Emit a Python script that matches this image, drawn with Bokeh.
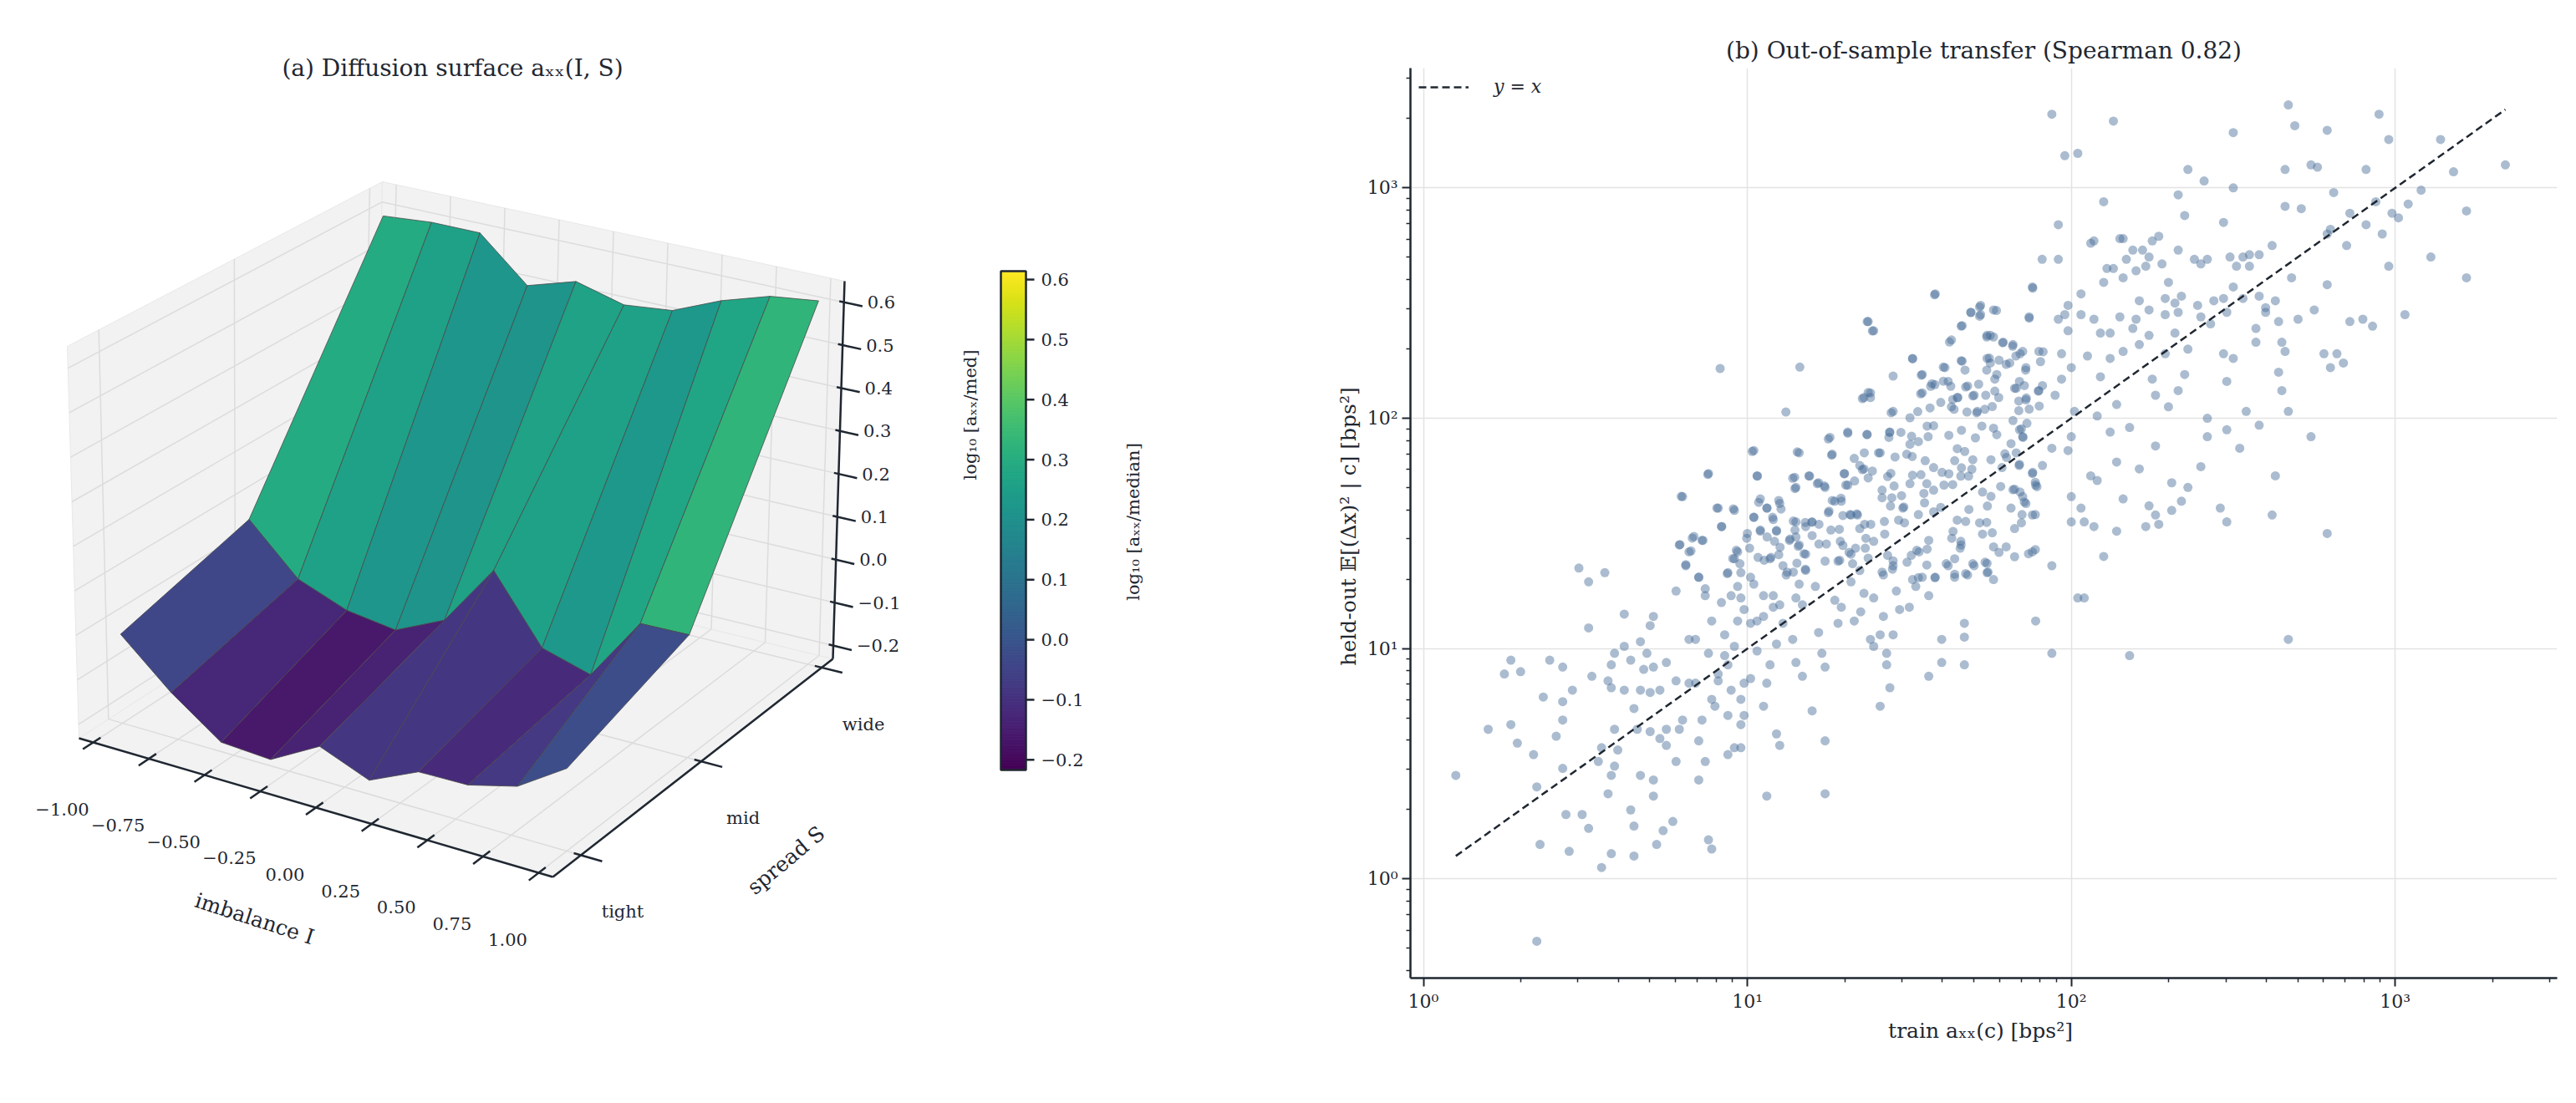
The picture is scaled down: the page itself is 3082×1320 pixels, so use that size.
import numpy as np
from bokeh.plotting import figure
from bokeh.layouts import row, column
from bokeh.models import Range1d, FixedTicker, CustomJSTickFormatter, Legend, LegendItem
from bokeh.palettes import Viridis256
from bokeh.core.properties import value
from bokeh.embed import file_html
from bokeh.resources import INLINE

FONT = "DejaVu Serif"
INK = "#1f2731"

# ---------------- data ----------------
imbalance = [-1.0 + 2.0 * k / 9 for k in range(10)]
spread_labels = ["tight", "mid", "wide"]
z_tight = [-0.03, -0.13, -0.21, -0.217, -0.156, -0.20, -0.15, -0.148, -0.12, -0.05]
z_mid = [0.051, -0.058, -0.101, -0.117, -0.065, 0.078, -0.070, -0.102, 0.043, 0.046]
z_wide = [0.59, 0.60, 0.60, 0.50, 0.535, 0.505, 0.517, 0.565, 0.60, 0.614]
imb_ticks = [-1.0, -0.75, -0.5, -0.25, 0.0, 0.25, 0.5, 0.75, 1.0]
z_ticks = [-0.2, -0.1, 0.0, 0.1, 0.2, 0.3, 0.4, 0.5, 0.6]
cbar_low, cbar_high = -0.217, 0.614

points_log10 = [
(0.10,0.45),(0.20,0.65),(0.25,0.89),(0.27,0.95),(0.30,0.90),(0.27,0.67),(0.29,0.59),(0.34,0.54),(0.35,0.40),(0.36,0.15),
(0.35,-0.27),(0.37,0.79),(0.39,0.95),(0.41,0.62),(0.43,0.77),(0.43,0.69),(0.43,0.92),(0.43,0.48),(0.44,0.28),(0.45,0.12),
(0.46,0.82),(0.48,1.35),(0.51,1.29),(0.51,1.09),(0.49,0.28),(0.51,0.22),(0.52,0.88),(0.54,0.51),(0.55,0.05),(0.56,1.33),
(0.55,0.57),(0.57,0.86),(0.58,0.83),(0.58,0.45),(0.57,0.37),(0.58,0.11),(0.59,0.98),(0.58,0.93),(0.59,0.65),(0.60,0.56),
(0.59,0.49),(0.62,0.82),(0.62,1.15),(0.62,1.01),(0.64,0.30),(0.64,0.95),(0.65,0.74),(0.65,0.10),(0.65,0.23),(0.66,0.65),
(0.67,0.82),(0.67,1.03),(0.67,0.45),(0.68,0.91),(0.69,0.98),(0.70,0.64),(0.70,0.81),(0.71,1.14),(0.70,1.10),(0.71,0.92),
(0.71,0.43),(0.71,0.36),(0.72,0.15),(0.73,0.61),(0.73,0.82),(0.74,0.21),(0.75,0.58),(0.75,0.65),(0.75,0.94),(0.77,0.25),
(0.78,0.86),(0.78,1.25),(0.78,0.51),(0.79,0.65),(0.80,1.66),(0.79,1.45),(0.80,0.69),(0.81,1.36),(0.82,1.04),(0.82,0.85),
(0.82,1.42),(0.83,1.48),(0.84,1.04),(0.84,0.85),(0.85,0.43),(0.85,1.31),(0.85,0.60),(0.86,0.69),(0.86,1.47),(0.87,0.51),
(0.87,1.26),(0.87,1.23),(0.88,1.76),(0.88,0.98),(0.88,0.17),(0.89,0.13),(0.89,0.78),(0.89,1.12),(0.90,0.75),(0.91,1.61),
(0.91,0.89),(0.91,0.86),(0.92,1.20),(0.92,1.53),(0.93,1.06),(0.93,0.97),(0.94,1.33),(0.94,0.71),(0.94,0.54),(0.94,0.93),
(0.95,1.23),(0.95,0.82),(0.96,1.60),(0.96,1.01),(0.96,0.57),(0.96,1.39),(0.97,1.42),(0.97,1.27),(0.97,1.12),(0.98,0.67),
(0.98,1.33),(0.98,1.22),(0.98,0.57),(0.98,0.78),(0.99,0.71),(0.99,1.17),(0.99,0.85),(1.00,1.50),(1.01,1.31),(1.01,1.11),
(1.01,0.87),(1.02,1.86),(1.02,1.57),(1.02,1.28),(1.03,1.12),(1.03,1.75),(1.03,0.99),(1.04,1.65),(1.04,1.51),(1.05,1.14),
(1.05,0.75),(1.05,1.23),(1.06,0.85),(1.06,0.36),(1.06,1.61),(1.07,0.93),(1.07,1.39),(1.08,1.18),(1.08,1.56),(1.08,1.23),
(1.09,1.02),(1.09,0.63),(1.09,1.51),(1.10,1.63),(1.10,1.19),(1.10,0.58),(1.11,1.36),(1.11,1.11),(1.12,1.32),(1.13,1.47),
(1.14,1.04),(1.14,1.74),(1.15,1.22),(1.15,1.55),(1.15,1.70),(1.15,0.94),(1.16,1.85),(1.16,1.28),(1.16,1.45),(1.17,1.19),
(1.17,0.88),(1.18,1.34),(1.18,1.53),(1.18,1.41),(1.19,1.75),(1.20,0.73),(1.20,1.55),(1.21,1.27),(1.22,1.72),(1.22,1.07),
(1.23,0.98),(1.24,1.38),(1.24,1.70),(1.24,0.92),(1.24,0.60),(1.24,0.37),(1.25,1.91),(1.25,1.59),(1.26,1.84),(1.27,1.64),
(1.27,1.21),(1.28,1.11),(1.28,1.38),(1.29,1.64),(1.29,1.18),(1.30,1.76),(1.31,1.71),(1.31,1.94),(1.32,1.58),(1.32,1.41),
(1.32,1.29),(1.33,1.12),(1.34,1.58),(1.35,1.16),(1.36,1.78),(1.36,1.24),(1.37,1.93),(1.38,1.04),(1.39,1.01),(1.39,1.22),
(1.41,1.85),(1.41,0.75),(1.41,1.06),(1.42,1.32),(1.42,1.14),(1.43,0.98),(1.43,0.93),(1.44,0.83),(1.44,1.94),(1.45,1.36),
(1.45,1.06),(1.46,1.25),(1.47,1.17),(1.48,1.61),(1.50,1.18),(1.51,1.30),(1.52,1.27),(1.53,1.42),(1.54,1.31),(1.56,1.47),
(1.56,1.23),(1.56,0.88),(1.58,1.31),(1.60,0.94),(1.60,1.04),(1.62,1.36),(1.64,1.39),(1.64,1.31),(1.66,1.45),(1.67,1.11),
(1.67,1.05),(1.67,0.93),(1.68,1.32),(1.70,1.36),(1.74,1.37),(1.74,1.33),(1.76,1.30),
(1.37,2.42),(1.39,2.38),(1.36,2.09),(1.38,2.09),(1.38,2.11),(1.45,2.03),(1.51,2.26),(1.54,2.19),(1.54,2.11),(1.58,2.54),
(1.57,2.15),(1.61,2.22),(1.63,2.34),(1.62,2.16),(1.63,2.05),(1.65,2.09),(1.66,2.40),(1.66,2.25),(1.68,2.14),(1.69,2.46),
(1.72,2.49),(1.72,2.45),(1.74,2.36),(1.74,2.26),(1.75,2.36),(1.76,2.47),(1.70,2.10),(1.71,2.03),(1.75,2.24),(1.77,2.19),
(1.79,2.33),(1.82,2.32),(1.85,2.29),(1.81,2.24),(1.83,2.13),(1.84,2.16),(1.86,2.22),(1.87,2.44),(1.88,2.57),(1.86,2.08),
(1.87,2.04),(1.82,1.99),(1.84,1.95),(1.85,1.92),(1.83,1.85),(1.80,1.83),(1.82,1.69),(1.84,1.80),(1.85,1.66),(1.86,1.63),
(1.88,1.76),(1.88,1.58),(1.89,1.71),(1.88,1.42),(1.89,1.12),(1.90,2.29),(1.90,2.12),(1.91,2.69),(1.94,3.32),(1.94,1.87),
(1.94,1.36),(1.94,0.98),(1.95,2.10),(1.96,2.69),(1.96,2.84),(1.96,2.43),(1.97,2.28),(1.97,2.17),(1.98,2.45),(1.98,3.14),
(1.99,2.38),(1.99,2.49),(1.99,1.86),(2.00,1.92),(2.00,1.66),(2.00,1.55),(2.00,2.22),(2.01,2.03),(2.02,3.15),(2.02,1.22),
(2.03,2.45),(2.03,1.61),(2.03,2.54),(2.04,1.22),(2.04,1.55),(2.05,2.27),(2.06,2.76),(2.06,1.75),(2.07,2.43),(2.07,2.77),
(2.07,1.53),(2.08,1.73),(2.08,2.01),(2.09,2.18),(2.09,2.37),(2.10,2.59),(2.10,1.40),(2.10,2.94),(2.11,2.65),(2.12,2.26),
(2.12,1.94),(2.12,2.37),(2.13,2.65),(2.13,3.29),(2.14,1.81),(2.14,1.51),(2.14,2.06),(2.15,2.44),(2.15,2.78),(2.16,2.29),
(2.16,1.65),(2.16,2.61),(2.16,2.78),(2.17,2.69),(2.18,1.96),(2.18,0.97),(2.19,2.39),(2.19,2.73),(2.20,2.43),(2.20,2.64),
(2.21,2.32),(2.21,1.78),(2.21,2.51),(2.22,2.73),(2.23,1.53),(2.23,2.66),(2.24,2.70),(2.24,2.36),(2.24,2.47),(2.24,1.62),
(2.25,2.77),(2.25,2.17),(2.26,1.58),(2.26,2.10),(2.26,1.88),(2.27,2.79),(2.27,1.54),(2.28,2.67),(2.29,2.52),(2.29,2.45),
(2.29,2.28),(2.30,2.59),(2.30,2.05),(2.31,1.72),(2.31,1.60),(2.32,2.50),(2.32,2.37),(2.33,2.97),(2.33,2.12),(2.33,2.73),
(2.33,2.46),(2.34,1.64),(2.34,2.53),(2.35,2.19),(2.35,2.88),(2.36,3.08),(2.36,1.70),(2.36,2.30),(2.38,2.69),(2.39,2.49),
(2.40,2.67),(2.40,2.44),(2.40,1.79),(2.41,3.03),(2.42,2.69),(2.42,1.92),(2.42,2.00),(2.43,2.41),(2.44,2.51),(2.46,1.61),
(2.47,2.28),(2.47,2.85),(2.47,2.52),(2.48,2.16),(2.48,1.95),(2.48,1.55),(2.48,2.46),(2.49,2.70),(2.50,2.57),(2.50,3.24),
(2.50,3.00),(2.50,2.26),(2.51,2.66),(2.52,1.87),(2.53,2.52),(2.53,2.70),(2.54,2.03),(2.55,2.71),(2.55,2.66),(2.57,2.39),
(2.57,2.33),(2.58,2.71),(2.58,2.53),(2.58,1.97),(2.60,2.46),(2.60,2.48),(2.62,2.75),(2.62,1.58),(2.63,2.51),(2.63,1.75),
(2.64,2.20),(2.64,2.42),(2.65,2.12),(2.65,2.33),(2.66,2.29),(2.66,3.08),(2.66,2.92),(2.67,2.03),(2.67,1.04),(2.67,3.36),
(2.68,2.61),(2.69,3.27),(2.70,2.43),(2.71,2.91),(2.74,1.92),(2.74,3.10),(2.75,2.47),(2.76,3.09),(2.78,2.28),(2.79,2.80),
(2.79,3.25),(2.79,2.58),(2.79,1.50),(2.80,2.82),(2.80,2.22),(2.81,2.98),(2.82,2.28),(2.84,2.24),(2.85,2.75),(2.86,2.42),
(2.86,2.89),(2.90,2.43),(2.91,3.08),(2.91,2.84),(2.93,2.40),(2.94,2.94),(2.95,3.32),(2.96,2.80),(2.98,3.21),(2.98,2.66),
(2.99,2.89),(3.01,2.87),(3.03,2.45),(3.04,2.93),(3.08,2.99),(3.11,2.70),(3.14,3.21),(3.18,3.07),(3.22,2.90),(3.22,2.61),
(3.34,3.10),
(1.015,1.856),(1.031,1.749),(1.020,1.570),(1.040,1.515),(1.035,1.635),(1.061,1.610),(1.078,1.570),(1.090,1.513),(1.097,1.643),(1.104,1.606),
(1.061,1.485),(1.084,1.466),(1.101,1.440),(1.097,1.408),(1.073,1.396),(1.052,1.384),(1.033,1.396),(1.007,1.436),(0.998,1.479),(0.966,1.427),
(0.977,1.369),(0.955,1.391),(1.146,1.744),(1.147,1.695),(1.154,1.854),(1.192,1.749),(1.216,1.716),(1.238,1.706),(1.262,1.643),(1.289,1.653),
(1.252,1.597),(1.142,1.554),(1.147,1.515),(1.179,1.548),(1.199,1.549),(1.221,1.540),(1.200,1.491),(1.221,1.454),(1.244,1.454),(1.258,1.515),
(1.284,1.518),(1.150,1.485),(1.132,1.476),(1.157,1.444),(1.175,1.412),(1.153,1.371),(1.123,1.332),(1.142,1.332),(1.179,1.345),(1.255,1.917),
(1.262,1.844),(1.310,1.935),(1.369,1.929),(1.405,1.850),(1.361,1.850),(1.330,1.826),(1.347,1.795),(1.355,1.777),(1.386,1.771),(1.299,1.759),
(1.304,1.710),(1.331,1.728),(1.373,1.741),(1.416,1.688),(1.433,1.747),(1.443,1.761),(1.453,1.706),(1.416,1.655),(1.446,1.655),(1.476,1.664),
(1.483,1.615),(1.442,1.619),(1.467,1.558),(1.485,1.546),(1.423,1.552),(1.424,1.497),(1.390,1.466),(1.366,1.479),(1.362,1.540),(1.381,1.540),
(1.347,1.521),(1.317,1.582),(1.338,1.585),(1.295,1.578),(1.287,1.466),(1.295,1.448),(1.314,1.418),(1.334,1.436),(1.364,1.436),(1.373,1.393),
(1.347,1.339),(1.325,1.369),(1.285,1.384),(1.444,2.024),(1.439,1.939),(1.474,1.939),(1.507,1.922),(1.502,1.887),(1.528,1.899),(1.558,1.920),
(1.555,1.966),(1.575,1.968),(1.492,1.844),(1.509,1.834),(1.456,1.832),(1.437,1.917),(1.549,1.816),(1.575,1.786),(1.510,1.753),(1.536,1.755),
(1.554,1.716),(1.575,1.688),(1.545,1.674),(1.547,1.633),(1.502,1.716),(1.528,1.582),(1.575,1.594),(1.597,1.613),(1.607,1.710),(1.601,1.765),
(1.622,1.759),(1.634,1.712),(1.659,1.749),(1.683,1.749),(1.693,1.779),(1.661,1.785),(1.640,1.816),(1.671,1.856),(1.696,1.820),(1.648,1.868),
(1.622,1.926),(1.661,1.948),(1.704,1.915),(1.724,1.966),(1.760,1.957),(1.770,1.929),(1.814,1.890),(1.795,1.846),(1.752,1.820),(1.786,1.786),
(1.839,1.795),(1.881,1.765),(1.911,1.795),(1.889,1.722),(1.894,1.703),(1.825,1.692),(1.842,1.680),(1.855,1.637),(1.848,1.582),(1.814,1.610),
(1.846,1.546),(1.825,1.521),(1.889,1.582),(1.782,1.704),(1.726,1.680),(1.752,1.661),(1.741,1.619),(1.684,1.604),(1.717,1.546),(1.739,1.548),
(1.674,1.552),(1.648,1.558),(1.635,1.509),(1.659,1.466),(1.657,1.436),(1.631,1.479),(1.726,1.497),(1.756,1.503),(1.760,1.442),(1.777,1.418),
(1.799,1.442),(1.825,1.399),(1.868,1.412),(1.889,1.430),(1.696,1.369),(1.734,1.375),(1.743,1.332),(1.674,1.326),(1.640,1.323),(1.614,1.369),
(1.579,1.308),(1.554,1.363),(1.528,1.308),(1.493,1.375),(1.523,1.427),(1.555,1.432),(1.506,1.405),(1.450,1.381),(1.433,1.405),(1.448,1.345),
(1.416,1.332),(1.638,2.039),(1.634,2.081),(1.648,2.090),(1.678,2.027),(1.708,2.024),(1.733,2.039),(1.756,2.051),(1.696,2.097),(1.674,2.136),
(1.714,2.148),(1.736,2.100),(1.764,2.118),(1.776,2.090),(1.764,2.170),(1.777,2.252),(1.799,2.234),(1.747,2.261),(1.739,2.209),(1.672,2.209),
(1.663,2.248),(1.605,2.222),(1.605,2.161),(1.628,2.139),(1.579,2.146),(1.566,2.139),(1.537,2.187),(1.535,2.106),(1.597,2.069),(1.564,2.045),
(1.526,2.029),(1.502,2.002),(1.510,2.258),(1.450,2.183),(1.624,2.331),(1.663,2.402),(1.690,2.459),(1.717,2.483),(1.717,2.443),(1.769,2.468),
(1.739,2.353),(1.760,2.353),(1.788,2.328),(1.819,2.313),(1.829,2.270),(1.842,2.280),(1.825,2.130),(1.855,2.142),(1.859,2.209),(1.861,2.088),
(1.838,2.075),(1.838,2.033),(1.863,1.978),(1.846,1.954),(1.851,1.917),(1.898,2.118),(1.911,2.142),(1.901,2.053),(1.905,2.246),(1.913,2.289),
(1.881,2.565),(1.870,2.435),(1.578,2.536),(1.373,2.420),(1.386,2.379),(1.162,2.222),(0.916,2.216),(1.119,2.027),(1.355,2.085),(1.373,2.112),
(0.878,1.756),(0.796,1.661),(0.906,1.610),(0.921,1.530),(0.957,1.607),(0.835,1.487),(0.863,1.470),(0.792,1.452),(0.826,1.424),(0.810,1.365),
(0.850,1.310),(0.938,1.326),
]
train_log10 = [p[0] for p in points_log10]
heldout_log10 = [p[1] for p in points_log10]
identity_log10 = [0.10, 3.34]

# ---------------- left: 3D surface (approximate perspective projection) ----------------
LW, LH = 1540, 1300
ZB0, ZB1 = -0.231, 0.649          # z limits of the 3D box
FLOOR = {"A": (102, 891), "B": (669, 1057), "C": (1004, 796), "D": (455, 662)}
VERT = {"A": (-14, -469), "B": (0, -485), "C": (14, -452), "D": (10, -437)}

def _bil(d, u, v):
    return tuple((1 - u) * (1 - v) * d["A"][j] + u * (1 - v) * d["B"][j] + u * v * d["C"][j]
                 + (1 - u) * v * d["D"][j] for j in range(2))

def uv(i, s):
    return 0.03 + 0.47 * (i + 1), 0.10 + 0.43 * s

def projuv(u, v, z):
    f = _bil(FLOOR, u, v)
    h = _bil(VERT, u, v)
    c = (z - ZB0) / (ZB1 - ZB0)
    return (f[0] + c * h[0] - 8, f[1] + c * h[1] - 8)

def proj(i, s, z):
    u, v = uv(i, s)
    return projuv(u, v, z)

def depth(i, s, z):
    u, v = uv(i, s)
    return 0.433 * u - 0.75 * v + 0.375 * (z - ZB0) / (ZB1 - ZB0)

def cmap(v):
    t = (v - cbar_low) / (cbar_high - cbar_low)
    return Viridis256[int(max(0, min(255, round(t * 255))))]

p1 = figure(width=LW, height=LH, x_range=Range1d(0, LW), y_range=Range1d(LH, 0),
            toolbar_location=None, output_backend="svg", min_border=0, title=None)
p1.axis.visible = False
p1.grid.visible = False
p1.outline_line_color = None

def poly(pts, **kw):
    p1.patch([q[0] for q in pts], [q[1] for q in pts], **kw)

def seg(a, b, **kw):
    p1.line([a[0], b[0]], [a[1], b[1]], **kw)

pane = dict(fill_color="#f2f2f2", line_color="#e8e8e8", line_width=1)
poly([projuv(0, 0, ZB0), projuv(1, 0, ZB0), projuv(1, 1, ZB0), projuv(0, 1, ZB0)], **pane)
poly([projuv(0, 0, ZB0), projuv(0, 1, ZB0), projuv(0, 1, ZB1), projuv(0, 0, ZB1)], **pane)
poly([projuv(0, 1, ZB0), projuv(1, 1, ZB0), projuv(1, 1, ZB1), projuv(0, 1, ZB1)], **pane)

g = dict(line_color="#dcdcdc", line_width=1.5)
for t in imb_ticks:
    u, _ = uv(t, 0)
    seg(projuv(u, 0, ZB0), projuv(u, 1, ZB0), **g)
    seg(projuv(u, 1, ZB0), projuv(u, 1, ZB1), **g)
for s in range(3):
    _, v = uv(0, s)
    seg(projuv(0, v, ZB0), projuv(1, v, ZB0), **g)
    seg(projuv(0, v, ZB0), projuv(0, v, ZB1), **g)
for z in z_ticks:
    seg(projuv(0, 0, z), projuv(0, 1, z), **g)
    seg(projuv(0, 1, z), projuv(1, 1, z), **g)

rows = [z_tight, z_mid, z_wide]
faces = []
for r in range(2):
    for k in range(9):
        corners = [(imbalance[k], r, rows[r][k]), (imbalance[k + 1], r, rows[r][k + 1]),
                   (imbalance[k + 1], r + 1, rows[r + 1][k + 1]), (imbalance[k], r + 1, rows[r + 1][k])]
        zc = np.mean([c[2] for c in corners])
        d = np.mean([depth(*c) for c in corners])
        faces.append((d, corners, zc))
faces.sort(key=lambda f: f[0])
for d, corners, zc in faces:
    poly([proj(*c) for c in corners], fill_color=cmap(zc), line_color="#4a4a4a",
         line_width=1.0, line_alpha=0.8)

ax = dict(line_color=INK, line_width=2.5)
tf = dict(text_font=value(FONT), text_font_size="21px", text_color=INK)
seg(projuv(0, 0, ZB0), projuv(1, 0, ZB0), **ax)
for t in imb_ticks:
    u, _ = uv(t, 0)
    seg(projuv(u, 0.025, ZB0), projuv(u, -0.035, ZB0), **ax)
    x, y = projuv(u, 0, ZB0)
    p1.text([x - 37], [y + 80], text=[f"{t:.2f}".replace("-", "\u2212")], text_align="center",
            text_baseline="middle", **tf)
seg(projuv(1, 0, ZB0), projuv(1, 1, ZB0), **ax)
for s in range(3):
    _, v = uv(0, s)
    seg(projuv(0.985, v, ZB0), projuv(1.045, v, ZB0), **ax)
    x, y = projuv(1, v, ZB0)
    p1.text([x + 50], [y + 68], text=[spread_labels[s]], text_align="center", text_baseline="middle", **tf)
seg(projuv(1, 1, ZB0), projuv(1, 1, ZB1), **ax)
for z in z_ticks:
    seg(projuv(0.99, 1, z), projuv(1.04, 1, z), **ax)
    x, y = projuv(1, 1, z)
    p1.text([x + 28], [y], text=[f"{z:.1f}".replace("-", "\u2212")], text_align="left",
            text_baseline="middle", **tf)

lf = dict(text_font=value(FONT), text_color=INK, text_align="center", text_baseline="middle")
p1.text([304], [1099], text=["imbalance I"], angle=-18, angle_units="deg", text_font_size="25px", **lf)
p1.text([940], [1029], text=["spread S"], angle=40, angle_units="deg", text_font_size="25px", **lf)
p1.text([1160], [496], text=["log\u2081\u2080 [a\u2093\u2093/med]"], angle=90, angle_units="deg",
        text_font_size="21px", **lf)
p1.text([541], [81], text=["(a) Diffusion surface a\u2093\u2093(I, S)"], text_font_size="28px", **lf)

# colorbar
CB_X0, CB_X1, CB_TOP, CB_BOT = 1197, 1227, 324, 921
def cb_y(v):
    return CB_BOT - (v - cbar_low) / (cbar_high - cbar_low) * (CB_BOT - CB_TOP)
levels = np.linspace(cbar_low, cbar_high, 257)
p1.quad(left=CB_X0, right=CB_X1, bottom=[cb_y(v) for v in levels[:-1]], top=[cb_y(v) for v in levels[1:]],
        fill_color=[cmap((levels[j] + levels[j + 1]) / 2) for j in range(256)],
        line_color=[cmap((levels[j] + levels[j + 1]) / 2) for j in range(256)], line_width=1)
p1.quad(left=[CB_X0], right=[CB_X1], bottom=[CB_BOT], top=[CB_TOP], fill_color=None, line_color=INK, line_width=2.5)
for z in z_ticks:
    seg((CB_X1, cb_y(z)), (CB_X1 + 10, cb_y(z)), **ax)
    p1.text([CB_X1 + 18], [cb_y(z)], text=[f"{z:.1f}".replace("-", "\u2212")], text_align="left",
            text_baseline="middle", text_font=value(FONT), text_font_size="21px", text_color=INK)
p1.text([1355], [624], text=["log\u2081\u2080 [a\u2093\u2093/median]"], angle=90, angle_units="deg",
        text_font_size="21px", **lf)

# ---------------- right: scatter ----------------
p2 = figure(x_axis_type="log", y_axis_type="log", width=1529, height=1300,
            x_range=Range1d(10 ** -0.04, 10 ** 3.50), y_range=Range1d(10 ** -0.43, 10 ** 3.52),
            toolbar_location=None, output_backend="svg",
            min_border_left=147, min_border_right=10, min_border_top=81, min_border_bottom=130)
p2.title.text = "(b) Out-of-sample transfer (Spearman 0.82)"
p2.title.align = "center"
p2.title.text_font = FONT
p2.title.text_font_size = "28px"
p2.title.text_font_style = "normal"
p2.title.text_color = INK
p2.outline_line_color = None

sc = p2.scatter([10 ** v for v in train_log10], [10 ** v for v in heldout_log10], size=11,
                fill_color="#456a96", fill_alpha=0.45, line_color=None)
ln = p2.line([10 ** v for v in identity_log10], [10 ** v for v in identity_log10],
             line_color=INK, line_width=2.5, line_dash="9 5")

majors = [1, 10, 100, 1000]
minors = [m * 10 ** e for e in range(-1, 4) for m in range(2, 10)]
fmt = CustomJSTickFormatter(code="""
const e = Math.round(Math.log10(tick));
const sup = {'0':'\u2070','1':'\u00b9','2':'\u00b2','3':'\u00b3','-':'\u207b'};
return '10' + String(e).split('').map(c => sup[c]).join('');
""")
for a in (p2.xaxis[0], p2.yaxis[0]):
    a.ticker = FixedTicker(ticks=majors, minor_ticks=minors)
    a.formatter = fmt
    a.axis_line_color = INK
    a.axis_line_width = 2.5
    a.major_tick_line_color = INK
    a.major_tick_line_width = 2
    a.major_tick_out = 10
    a.major_tick_in = 0
    a.minor_tick_line_color = INK
    a.minor_tick_line_width = 1.5
    a.minor_tick_out = 5
    a.minor_tick_in = 0
    a.major_label_text_font = FONT
    a.major_label_text_font_size = "22px"
    a.major_label_text_color = INK
    a.axis_label_text_font = FONT
    a.axis_label_text_font_size = "25px"
    a.axis_label_text_font_style = "normal"
    a.axis_label_text_color = INK
p2.xaxis.axis_label = "train a\u2093\u2093(c)  [bps\u00b2]"
p2.yaxis.axis_label = "held-out \U0001D53C[(\u0394x)\u00b2 | c]  [bps\u00b2]"
p2.grid.grid_line_color = "#e3e3e3"
p2.grid.grid_line_width = 1.5
p2.grid.ticker = FixedTicker(ticks=majors)

leg = Legend(items=[LegendItem(label="y = x", renderers=[ln])], location="top_left",
             border_line_color=None, background_fill_alpha=0.0,
             label_text_font=FONT, label_text_font_size="22px", label_text_font_style="italic",
             label_text_color=INK, glyph_width=60, margin=10, label_standoff=30)
p2.add_layout(leg)

layout = row(column(p1), column(p2))
open("out.html", "w").write(file_html(layout, INLINE))
